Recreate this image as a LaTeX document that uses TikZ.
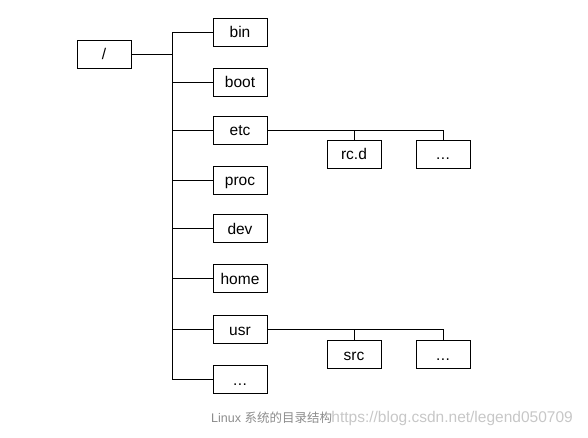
\documentclass[tikz,border=0pt]{standalone}
\usepackage{fontspec}
\setmainfont{Liberation Sans}
\newfontfamily\cjk{Noto Sans CJK SC}
\begin{document}
\begin{tikzpicture}[x=1pt,y=-1pt,
  dirbox/.style={draw=black,line width=0.8pt,minimum width=54pt,minimum height=28pt,inner sep=0pt,text height=13pt,text depth=1pt,font=\fontsize{15.5}{15.5}\selectfont},
  conn/.style={line width=0.8pt}]
\useasboundingbox (0,0) rectangle (588,438);
\node[dirbox] (root) at (104,54) {/};
\node[dirbox] (bin) at (240,32) {bin};
\node[dirbox] (boot) at (240,82) {boot};
\node[dirbox] (etc) at (240,130) {etc};
\node[dirbox] (proc) at (240,180) {proc};
\node[dirbox] (dev) at (240,228) {dev};
\node[dirbox] (home) at (240,278) {home};
\node[dirbox] (usr) at (240,329) {usr};
\node[dirbox] (more) at (240,379) {.\kern0.5pt.\kern0.5pt.};
\node[dirbox] (rcd) at (354,154) {rc.d};
\node[dirbox] (etcmore) at (443,154) {.\kern0.5pt.\kern0.5pt.};
\node[dirbox] (src) at (354,354) {src};
\node[dirbox] (usrmore) at (443,354) {.\kern0.5pt.\kern0.5pt.};
\coordinate (trunk) at (172,54);
\draw[conn] (root.east) -- (trunk);
\draw[conn] (bin.west) -| (172,32) -- (172,379) -- (more.west);
\foreach \n in {boot,etc,proc,dev,home,usr}
  \draw[conn] (\n.west) -- (\n.west -| trunk);
\draw[conn] (etc.east) -| (etcmore.north);
\draw[conn] (rcd.north) -- (rcd.north |- etc.east);
\draw[conn] (usr.east) -| (usrmore.north);
\draw[conn] (src.north) -- (src.north |- usr.east);
\node[anchor=west,inner sep=0pt,text=black!45,font=\fontsize{12.5}{12.5}\selectfont] (cap) at (211,418) {Linux {\cjk 系统的目录结构}};
\node[anchor=west,inner sep=0pt,text=black!22,font=\fontsize{15.5}{15.5}\selectfont] (wm) at ([xshift=-1pt]cap.east) {https://blog.csdn.net/legend050709};
\end{tikzpicture}
\end{document}
